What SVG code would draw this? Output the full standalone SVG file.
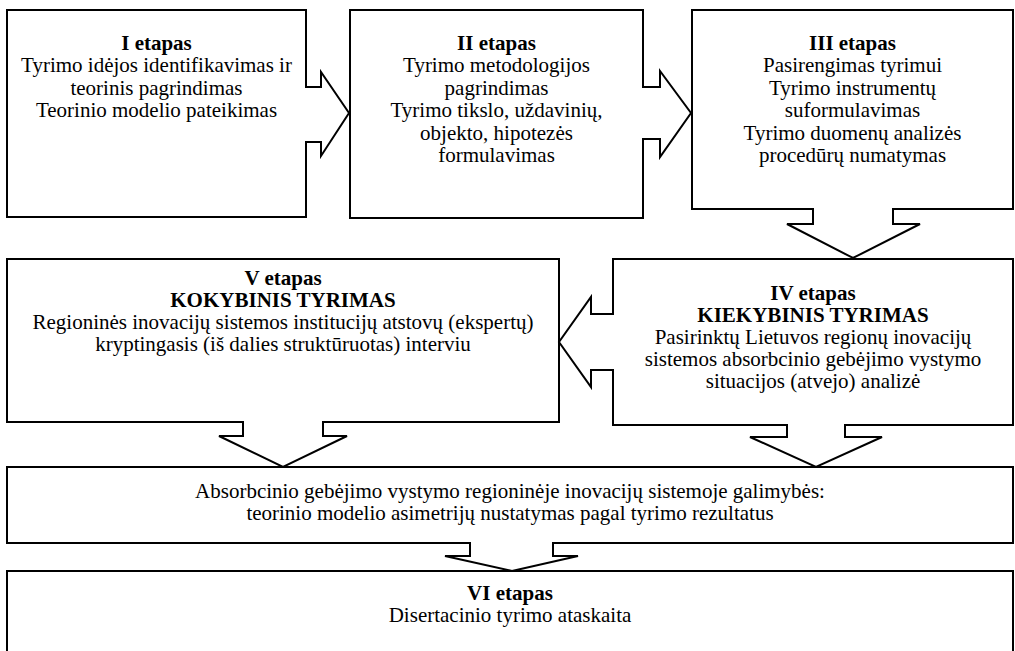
<svg xmlns="http://www.w3.org/2000/svg" width="1015" height="651" viewBox="0 0 1015 651">
<style>
.box{fill:#fff;stroke:#000;stroke-width:2}
.arr{fill:#fff;stroke:#000;stroke-width:2;stroke-linejoin:miter}
text{font-family:"Liberation Serif","Times New Roman",serif;font-size:21px;fill:#000;text-anchor:middle}
.b{font-weight:bold}
</style>
<rect width="1015" height="651" fill="#fff"/>
<g id="node-I">
<rect class="box" x="7" y="10" width="299" height="207"/>
<text x="156.5" y="50" class="b">I etapas</text>
<text x="156.5" y="72">Tyrimo idėjos identifikavimas ir</text>
<text x="156.5" y="95">teorinis pagrindimas</text>
<text x="156.5" y="117">Teorinio modelio pateikimas</text>
</g>
<g id="node-II">
<rect class="box" x="350" y="10" width="293" height="208"/>
<text x="496.5" y="50" class="b">II etapas</text>
<text x="496.5" y="72">Tyrimo metodologijos</text>
<text x="496.5" y="95">pagrindimas</text>
<text x="496.5" y="117">Tyrimo tikslo, uždavinių,</text>
<text x="496.5" y="140">objekto, hipotezės</text>
<text x="496.5" y="162">formulavimas</text>
</g>
<g id="node-III">
<rect class="box" x="692" y="10" width="321" height="199"/>
<text x="852.5" y="50" class="b">III etapas</text>
<text x="852.5" y="72">Pasirengimas tyrimui</text>
<text x="852.5" y="95">Tyrimo instrumentų</text>
<text x="852.5" y="117">suformulavimas</text>
<text x="852.5" y="140">Tyrimo duomenų analizės</text>
<text x="852.5" y="162">procedūrų numatymas</text>
</g>
<g id="node-IV">
<rect class="box" x="613" y="259" width="400" height="166"/>
<text x="813" y="300" class="b">IV etapas</text>
<text x="813" y="322" class="b">KIEKYBINIS TYRIMAS</text>
<text x="813" y="344">Pasirinktų Lietuvos regionų inovacijų</text>
<text x="813" y="366">sistemos absorbcinio gebėjimo vystymo</text>
<text x="813" y="388">situacijos (atvejo) analizė</text>
</g>
<g id="node-V">
<rect class="box" x="7" y="259" width="552" height="163"/>
<text x="283" y="285" class="b">V etapas</text>
<text x="283" y="307" class="b">KOKYBINIS TYRIMAS</text>
<text x="283" y="329">Regioninės inovacijų sistemos institucijų atstovų (ekspertų)</text>
<text x="283" y="351">kryptingasis (iš dalies struktūruotas) interviu</text>
</g>
<g id="node-result">
<rect class="box" x="7" y="467" width="1006" height="76"/>
<text x="510" y="498">Absorbcinio gebėjimo vystymo regioninėje inovacijų sistemoje galimybės:</text>
<text x="510" y="520">teorinio modelio asimetrijų nustatymas pagal tyrimo rezultatus</text>
</g>
<g id="node-VI">
<rect class="box" x="7" y="571" width="1006" height="95"/>
<text x="510" y="600" class="b">VI etapas</text>
<text x="510" y="622">Disertacinio tyrimo ataskaita</text>
</g>
<g id="connectors">
<polyline class="arr" points="305,87 321,87 321,72 349,113 321,156 321,142 305,142"/>
<polyline class="arr" points="642,87 660,87 660,71 691,113 660,157 660,139 642,139"/>
<polyline class="arr" points="813,208 813,224 787,224 853,258 920,224 893,224 893,208"/>
<polyline class="arr" points="614,314 591,314 591,297 559,342 591,387 591,370 614,370"/>
<polyline class="arr" points="243,421 243,436 219,436 283,467 347,436 323,436 323,421"/>
<polyline class="arr" points="787,424 787,437 750,437 816,467 882,437 845,437 845,424"/>
<polyline class="arr" points="470,542 470,556 445,556 512,571 578,556 553,556 553,542"/>
</g>
</svg>
